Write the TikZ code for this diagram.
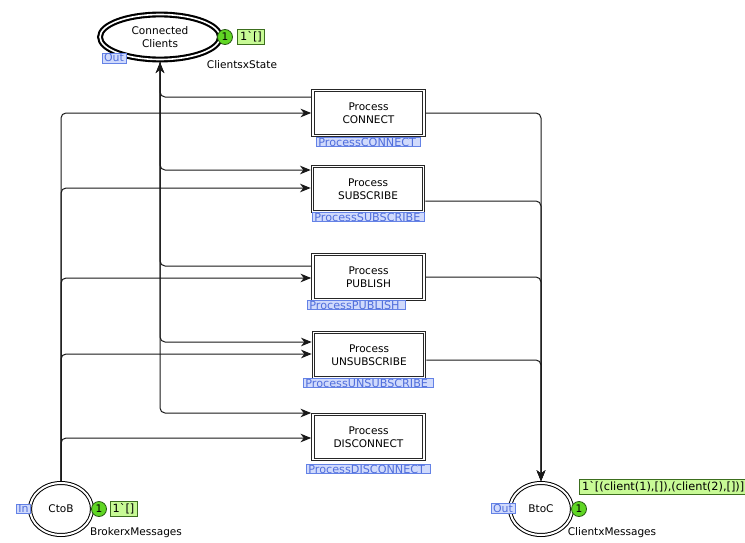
\documentclass[tikz,border=0pt]{standalone}
\usepackage{fontspec}
\setmainfont{DejaVu Sans}[Ligatures=TeXOff]
\usetikzlibrary{arrows.meta,shapes.geometric}

\definecolor{tokfill}{RGB}{96,214,36}
\definecolor{tokline}{RGB}{40,90,20}
\definecolor{markfill}{RGB}{200,250,150}
\definecolor{markline}{RGB}{60,110,30}
\definecolor{tagfill}{RGB}{208,218,252}
\definecolor{tagline}{RGB}{100,130,230}
\definecolor{tagtext}{RGB}{80,110,220}
\newcommand\pxl{0.75pt}
\newcommand\bq{\symbol{96}}

\begin{document}
\begin{tikzpicture}[x=0.75pt,y=-0.75pt,
  every node/.style={font=\fontsize{7.9}{9.8}\selectfont, inner sep=0pt},
  place/.style={ellipse, draw, line width=0.75pt, double, double distance=1.5pt,
    outer sep=1.5pt, minimum width=62*\pxl, minimum height=52*\pxl},
  mainplace/.style={ellipse, draw, line width=1.6pt, double, double distance=1.2pt,
    outer sep=2.2pt, minimum width=120*\pxl, minimum height=45*\pxl, align=center},
  subst/.style={rectangle, draw=black!85, line width=0.8pt, double, double distance=1.2pt,
    outer sep=1.4pt, minimum width=111*\pxl, minimum height=45*\pxl, align=center},
  token/.style={circle, draw=tokline, fill=tokfill, line width=0.6pt, minimum size=15*\pxl},
  marking/.style={draw=markline, fill=markfill, line width=0.6pt, inner xsep=2pt, inner ysep=1.5pt,
    font=\fontsize{8.5}{10}\selectfont},
  porttag/.style={draw=tagline, fill=tagfill, text=tagtext, line width=0.6pt,
    inner xsep=1.5pt, inner ysep=0.6pt, font=\fontsize{8.2}{10}\selectfont},
  subtag/.style={draw=tagline, fill=tagfill, text=tagtext, line width=0.6pt,
    inner xsep=1.5pt, inner ysep=0.4pt, align=left, anchor=west,
    font=\fontsize{8.4}{10}\selectfont},
  arc/.style={draw=black!90, line width=0.75pt,
    -{Stealth[length=8pt,width=6.5pt,inset=2.5pt]}, rounded corners=5*\pxl}
]
\useasboundingbox (0,0) rectangle (745,542);
\fill[white] (0,0) rectangle (745,542);
\clip (0,0) rectangle (745,542);

% places
\node[mainplace] (cc) at (160,37) {Connected\\Clients};
\node[token] (cctok) at (225,37) {1};
\node[marking] (ccmark) at (251,37) {1\bq[]};
\node (ccset) at (242,65) {ClientsxState};
\node[porttag] (ccport) at (114,58) {Out};

\node[place] (ctob) at (61,509) {CtoB};
\node[token] (ctobtok) at (99,509) {1};
\node[marking] (ctobmark) at (123.5,509) {1\bq[]};
\node (ctobset) at (136,533) {BrokerxMessages};
\node[porttag] (ctobport) at (23.5,509) {In};

\node[place] (btoc) at (541,509) {BtoC};
\node[token] (btoctok) at (579,509) {1};
\node[marking, anchor=west] (btocmark) at (579,487) {1\bq[(client(1),[]),(client(2),[])]};
\node (btocset) at (612,533) {ClientxMessages};
\node[porttag] (btocport) at (503,508.5) {Out};

% substitution transitions
\node[subst] (connect) at (368.5,113) {Process\\CONNECT};
\node[subst] (subscribe) at (368,189) {Process\\SUBSCRIBE};
\node[subst] (publish) at (368.5,277) {Process\\PUBLISH};
\node[subst] (unsubscribe) at (369,355) {Process\\UNSUBSCRIBE};
\node[subst] (disconnect) at (368.5,437) {Process\\DISCONNECT};

\node[subtag, text width=100*\pxl] (tagc) at (316,142) {ProcessCONNECT};
\node[subtag, text width=108*\pxl] (tags) at (312,217) {ProcessSUBSCRIBE};
\node[subtag, text width=94*\pxl] (tagp) at (307,305) {ProcessPUBLISH};
\node[subtag, text width=126*\pxl] (tagu) at (303,383) {ProcessUNSUBSCRIBE};
\node[subtag, text width=120*\pxl] (tagd) at (306,469) {ProcessDISCONNECT};

% arcs from CtoB
\draw[arc] (ctob.north) |- (connect.west |- 0,113);
\draw[arc] (ctob.north) |- (subscribe.west |- 0,188);
\draw[arc] (ctob.north) |- (publish.west |- 0,278);
\draw[arc] (ctob.north) |- (unsubscribe.west |- 0,354);
\draw[arc] (ctob.north) |- (disconnect.west |- 0,438);

% arcs between Connected Clients and the transitions
\draw[arc] (connect.west |- 0,97) -| (cc.south);
\draw[arc] (cc.south) |- (subscribe.west |- 0,170);
\draw[arc] (publish.west |- 0,266) -| (cc.south);
\draw[arc] (cc.south) |- (unsubscribe.west |- 0,342);
\draw[arc] (cc.south) |- (disconnect.west |- 0,413);

% arcs to BtoC
\draw[arc] (connect.east |- 0,113) -| (btoc.north);
\draw[arc] (subscribe.east |- 0,201) -| (btoc.north);
\draw[arc] (publish.east |- 0,277) -| (btoc.north);
\draw[arc] (unsubscribe.east |- 0,360) -| (btoc.north);
\end{tikzpicture}
\end{document}
